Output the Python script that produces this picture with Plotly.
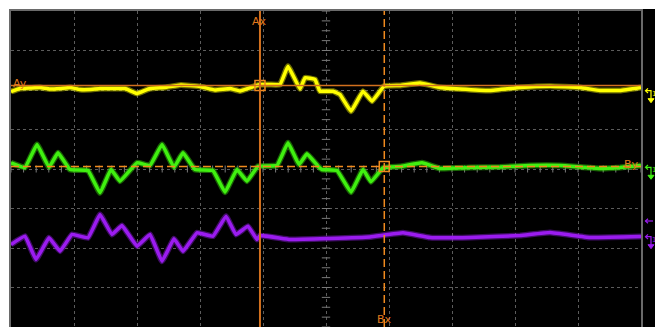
import numpy as np
import plotly.graph_objects as go

# ---- data (time and amplitude in screen divisions) ----
ch1_t = [0, 0.143, 0.302, 0.460, 0.619, 0.778, 0.937, 1.095, 1.254, 1.413, 1.603, 1.810, 2.0, 2.206,
         2.444, 2.698, 3.0, 3.238, 3.476, 3.635, 3.794, 3.952, 4.111, 4.270, 4.397, 4.587, 4.667,
         4.825, 4.905, 5.111, 5.222, 5.397, 5.587, 5.730, 5.921, 6.175, 6.492, 6.810, 7.127, 7.603,
         8.079, 8.556, 9.032, 9.349, 9.667, 10.0]
ch1_v = [1.962, 2.038, 2.051, 2.063, 2.025, 2.038, 2.063, 2.013, 2.013, 2.038, 2.038, 2.038, 1.911,
         2.038, 2.063, 2.127, 2.089, 2.0, 2.038, 1.975, 2.056, 2.139, 2.139, 2.139, 2.603, 2.030,
         2.309, 2.266, 1.970, 1.970, 1.886, 1.463, 1.970, 1.716, 2.096, 2.114, 2.177, 2.063, 2.025,
         1.987, 2.063, 2.096, 2.063, 1.987, 1.987, 2.063]

ch2_t = [0, 0.222, 0.413, 0.603, 0.746, 0.937, 1.222, 1.413, 1.587, 1.730, 2.0, 2.206, 2.397, 2.587,
         2.730, 2.921, 3.206, 3.397, 3.587, 3.746, 3.921, 4.222, 4.397, 4.571, 4.698, 4.873, 4.937,
         5.175, 5.397, 5.587, 5.714, 5.905, 6.175, 6.524, 6.810, 7.286, 7.762, 8.238, 8.714, 9.349,
         9.667, 10.0]
ch2_v = [0.157, 0.038, 0.620, 0.046, 0.410, -0.013, -0.038, -0.603, -0.013, -0.309, 0.157, 0.089,
         0.620, 0.046, 0.410, -0.013, -0.038, -0.587, -0.013, -0.309, 0.071, 0.089, 0.663, 0.114,
         0.385, 0.071, -0.013, -0.038, -0.587, -0.013, -0.324, 0.030, 0.063, 0.157, 0.013, 0.038,
         0.051, 0.089, 0.089, 0.013, 0.038, 0.089]

ch3_t = [0, 0.222, 0.397, 0.603, 0.778, 0.968, 1.222, 1.413, 1.603, 1.762, 2.0, 2.206, 2.397, 2.587,
         2.730, 2.952, 3.206, 3.413, 3.571, 3.762, 3.905, 3.952, 4.429, 5.063, 5.698, 6.222, 6.651,
         7.286, 8.079, 8.556, 9.190, 10.0]
ch3_v = [-1.911, -1.701, -2.291, -1.742, -2.081, -1.658, -1.742, -1.152, -1.658, -1.430, -1.954,
         -1.658, -2.334, -1.767, -2.081, -1.615, -1.701, -1.195, -1.658, -1.448, -1.785, -1.684,
         -1.785, -1.759, -1.722, -1.615, -1.734, -1.734, -1.684, -1.608, -1.734, -1.709]

cursor_ax = 3.952
cursor_bx = 5.925
cursor_ay = 2.114
cursor_by = 0.063

x_ticks = list(range(0, 11))
y_ticks = list(range(-4, 5))

# ---- figure (body margin removed by post_script; figure fills the window) ----
W, H = 655, 327
ML, MT = 11, 11
PW, PH = 630, 316
MR, MB = W - ML - PW, H - MT - PH


def px(x):
    """screen pixel x -> paper"""
    return (x - ML) / PW


def py(y):
    """screen pixel y -> paper"""
    return (MT + PH - y) / PH


fig = go.Figure()

GRID = '#5c5c5c'
TICKC = '#7a7a7a'
# center-line minor ticks (graticule)
minor_y = np.arange(-4, 4.001, 0.25)
minor_x = np.arange(0, 10.001, 0.2)
fig.add_trace(go.Scatter(x=[5] * len(minor_y), y=minor_y, mode='markers',
                         marker=dict(symbol='line-ew-open', size=6, color=TICKC,
                                     line=dict(color=TICKC, width=1)),
                         hoverinfo='skip', showlegend=False))
fig.add_trace(go.Scatter(x=minor_x, y=[0] * len(minor_x), mode='markers',
                         marker=dict(symbol='line-ns-open', size=5, color=TICKC,
                                     line=dict(color=TICKC, width=1)),
                         hoverinfo='skip', showlegend=False))

traces = [
    (ch1_t, ch1_v, '#ffff00', 'rgba(215,215,0,0.5)'),
    (ch2_t, ch2_v, '#40f010', 'rgba(50,200,10,0.5)'),
    (ch3_t, ch3_v, '#9b1cf0', 'rgba(125,25,200,0.5)'),
]
for t, v, col, edge in traces:
    fig.add_trace(go.Scatter(x=t, y=v, mode='lines',
                             line=dict(color=edge, width=6, shape='spline', smoothing=0.25),
                             hoverinfo='skip', showlegend=False))
    fig.add_trace(go.Scatter(x=t, y=v, mode='lines',
                             line=dict(color=col, width=3.5, shape='spline', smoothing=0.25),
                             hoverinfo='skip', showlegend=False))

CUR_SOLID = '#d2701e'
CUR_DASH = '#f08a1e'

# cursor boxes
fig.add_trace(go.Scatter(x=[cursor_ax, cursor_bx], y=[cursor_ay, cursor_by], mode='markers',
                         marker=dict(symbol='square-open', size=10, color=CUR_DASH,
                                     line=dict(color=CUR_DASH, width=1.5)),
                         hoverinfo='skip', showlegend=False))

shapes = [
    dict(type='rect', xref='paper', yref='paper', x0=px(9), x1=px(656), y0=py(328), y1=py(9),
         fillcolor='black', line=dict(width=0), layer='below'),
    dict(type='line', xref='x', yref='paper', x0=cursor_ax, x1=cursor_ax, y0=0, y1=1,
         line=dict(color=CUR_SOLID, width=2)),
    dict(type='line', xref='x', yref='paper', x0=cursor_bx, x1=cursor_bx, y0=0, y1=1,
         line=dict(color=CUR_DASH, width=1.5, dash='8px,4px')),
    dict(type='line', xref='paper', yref='y', x0=0, x1=1, y0=cursor_ay, y1=cursor_ay,
         line=dict(color=CUR_SOLID, width=1.5)),
    dict(type='line', xref='paper', yref='y', x0=0, x1=1, y0=cursor_by, y1=cursor_by,
         line=dict(color=CUR_DASH, width=1.5, dash='8px,4px')),
]

# channel markers on the right side
markers = [(90.7, '#ffff00'), (167.3, '#40f010'), (236.7, '#9b1cf0')]
for yh, col in markers:
    path = f"M {px(646)},{py(yh)} L {px(651)},{py(yh)} L {px(651)},{py(yh + 8)}"
    shapes.append(dict(type='path', xref='paper', yref='paper', path=path,
                       line=dict(color=col, width=1.2)))
    head = f"M {px(648)},{py(yh - 2.3)} L {px(645.5)},{py(yh)} L {px(648)},{py(yh + 2.3)}"
    shapes.append(dict(type='path', xref='paper', yref='paper', path=head,
                       line=dict(color=col, width=1.2)))
    down = f"M {px(648)},{py(yh + 8)} L {px(654)},{py(yh + 8)} L {px(651)},{py(yh + 12)} Z"
    shapes.append(dict(type='path', xref='paper', yref='paper', path=down,
                       fillcolor=col, line=dict(color=col, width=1)))
# purple offset arrow
shapes.append(dict(type='path', xref='paper', yref='paper',
                   path=f"M {px(645.5)},{py(221)} L {px(653)},{py(221)}",
                   line=dict(color='#9b1cf0', width=1.2)))
shapes.append(dict(type='path', xref='paper', yref='paper',
                   path=f"M {px(648)},{py(218.7)} L {px(645.5)},{py(221)} L {px(648)},{py(223.3)}",
                   line=dict(color='#9b1cf0', width=1.2)))

LBL = dict(family='DejaVu Sans', size=11, color='#e07a1c')
annotations = [
    dict(x=cursor_ax, y=py(12.5), xref='x', yref='paper', text='Ax', showarrow=False,
         xanchor='center', yanchor='top', font=LBL),
    dict(x=cursor_bx, y=py(326.5), xref='x', yref='paper', text='Bx', showarrow=False,
         xanchor='center', yanchor='bottom', font=LBL, borderpad=0),
    dict(x=px(11), y=cursor_ay, xref='paper', yref='y', text='Ay', showarrow=False,
         xanchor='left', yanchor='middle', font=LBL, yshift=2),
    dict(x=px(641), y=cursor_by, xref='paper', yref='y', text='By', showarrow=False,
         xanchor='right', yanchor='middle', font=LBL, yshift=2),
]
for yh, col in markers:
    annotations.append(dict(x=px(650.5), y=py(yh + 3), xref='paper', yref='paper', text='1',
                            showarrow=False, xanchor='left', yanchor='middle', borderpad=0,
                            font=dict(family='DejaVu Sans', size=7, color=col)))

axis_common = dict(showgrid=True, gridcolor=GRID, griddash='dot', gridwidth=1,
                   showticklabels=False, ticks='', zeroline=False, showline=True,
                   linecolor='#6a6a6a', linewidth=2, mirror=True, fixedrange=True)

fig.update_layout(
    width=W, height=H,
    margin=dict(l=ML, r=MR, t=MT, b=MB),
    paper_bgcolor='white', plot_bgcolor='black',
    xaxis=dict(range=[0, 10], tickvals=x_ticks, **axis_common),
    yaxis=dict(range=[-4, 4], tickvals=y_ticks, **axis_common),
    shapes=shapes, annotations=annotations,
    showlegend=False,
)

post = ("document.documentElement.style.overflow='hidden';"
        "document.body.style.overflow='hidden';"
        "document.body.style.margin='0';")
fig.write_html('out.html', config={'displayModeBar': False}, post_script=post)
